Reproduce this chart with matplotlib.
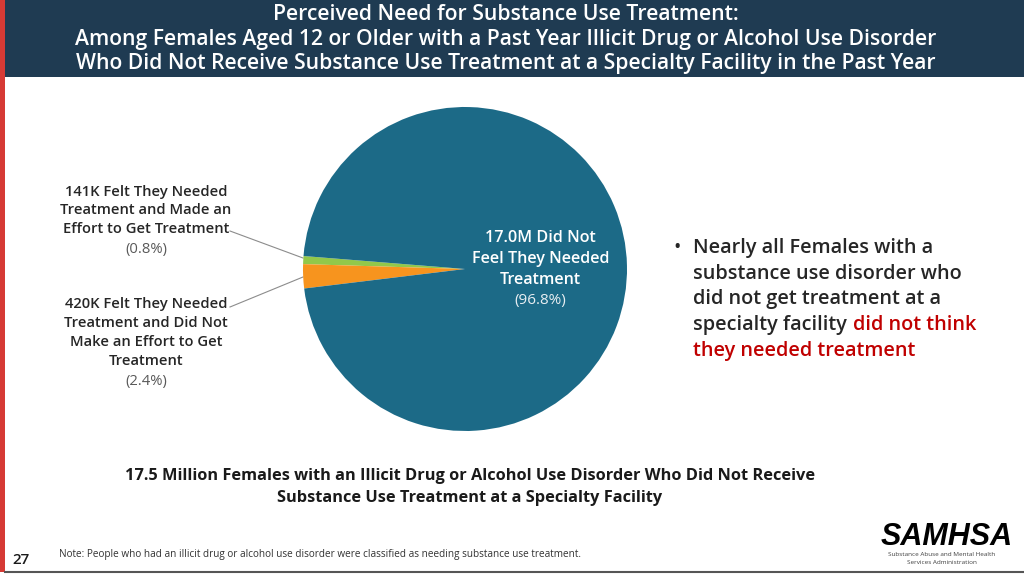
import matplotlib.pyplot as plt

plt.rcParams["font.family"] = ["Open Sans", "DejaVu Sans"]

slice_labels = ["Made an effort", "Did not make an effort", "Did not feel need"]
slice_percents = [0.8, 2.4, 96.8]
slice_colors = ["#92c84a", "#f7941e", "#1c6a87"]

title_lines = [
    "Perceived Need for Substance Use Treatment:",
    "Among Females Aged 12 or Older with a Past Year Illicit Drug or Alcohol Use Disorder",
    "Who Did Not Receive Substance Use Treatment at a Specialty Facility in the Past Year",
]
bullet_lines = [
    "Nearly all Females with a",
    "substance use disorder who",
    "did not get treatment at a",
]
note_text = "Note: People who had an illicit drug or alcohol use disorder were classified as needing substance use treatment."
caption_text = (
    "17.5 Million Females with an Illicit Drug or Alcohol Use Disorder Who Did Not Receive\n"
    "Substance Use Treatment at a Specialty Facility"
)


def main():
    plt.figure(figsize=(10.24, 5.76), dpi=100, facecolor="white")

    # whole slide, in pixels
    plt.axes([0, 0, 1, 1])
    plt.xlim(0, 1024)
    plt.ylim(576, 0)
    plt.axis("off")

    plt.fill_between([0, 1024], 0, 77, color="#1f3b52", lw=0)
    plt.fill_between([0, 5], 0, 572, color="#d63a35", lw=0)
    plt.plot([5, 1024], [572, 572], color="#555555", lw=1.5)

    for y, line in zip([15, 39, 64], title_lines):
        plt.text(506, y, line, color="white", fontsize=15.2, fontweight=600, ha="center", va="center")

    # left labels
    plt.text(146, 210.5, "141K Felt They Needed\nTreatment and Made an\nEffort to Get Treatment",
             color="#262626", fontsize=10.6, fontweight=600, ha="center", va="center", linespacing=1.45)
    plt.text(146, 250, "(0.8%)", color="#595959", fontsize=10.6, ha="center", va="center")
    plt.text(146, 332.5, "420K Felt They Needed\nTreatment and Did Not\nMake an Effort to Get\nTreatment",
             color="#262626", fontsize=10.6, fontweight=600, ha="center", va="center", linespacing=1.45)
    plt.text(146, 381, "(2.4%)", color="#595959", fontsize=10.6, ha="center", va="center")
    plt.plot([230, 303], [231, 258], color="#8c8c8c", lw=0.8)
    plt.plot([230, 303], [307, 277], color="#8c8c8c", lw=0.8)

    # right bullet
    plt.text(673, 248, "•", color="#262626", fontsize=14.3, ha="left", va="center")
    for y, line in zip([248, 274, 299], bullet_lines):
        plt.text(693, y, line, color="#262626", fontsize=14.3, fontweight=600, ha="left", va="center")
    plt.text(693, 325, "specialty facility", color="#262626", fontsize=14.3, fontweight=600,
             ha="left", va="center")
    plt.text(853, 325, "did not think", color="#c00000", fontsize=14.3, fontweight=600, ha="left", va="center")
    plt.text(693, 351, "they needed treatment", color="#c00000", fontsize=14.3, fontweight=600,
             ha="left", va="center")

    plt.text(470, 487, caption_text, color="#1a1a1a", fontsize=11.75, fontweight=700, ha="center", va="center",
             linespacing=1.47)
    plt.text(59, 554, note_text, color="#333333", fontsize=7.2, ha="left", va="center")
    plt.text(21, 560, "27", color="#1a1a1a", fontsize=11, fontweight=600, ha="center", va="center")

    # logo
    plt.text(947, 537, "SAMHSA", color="black", fontsize=22, fontweight="bold", style="italic",
             ha="center", va="center", family="Liberation Sans")
    plt.text(942, 554, "Substance Abuse and Mental Health", color="#404040", fontsize=4.6, ha="center", va="center")
    plt.text(942, 563, "Services Administration", color="#404040", fontsize=4.6, ha="center", va="center")

    # pie, centre 465,269 radius 162
    plt.axes([303 / 1024, 1 - 431 / 576, 324 / 1024, 324 / 576])
    plt.pie(slice_percents, colors=slice_colors, startangle=175.4, counterclock=True, radius=1)
    plt.xlim(-1, 1)
    plt.ylim(-1, 1)
    plt.text(0.465, 0.062, "17.0M Did Not\nFeel They Needed\nTreatment", color="white", fontsize=11.6,
             fontweight=600, ha="center", va="center", linespacing=1.43)
    plt.text(0.465, -0.195, "(96.8%)", color="#e8eef2", fontsize=11, ha="center", va="center")

    plt.savefig("out.png", dpi=100)


if __name__ == "__main__":
    main()
